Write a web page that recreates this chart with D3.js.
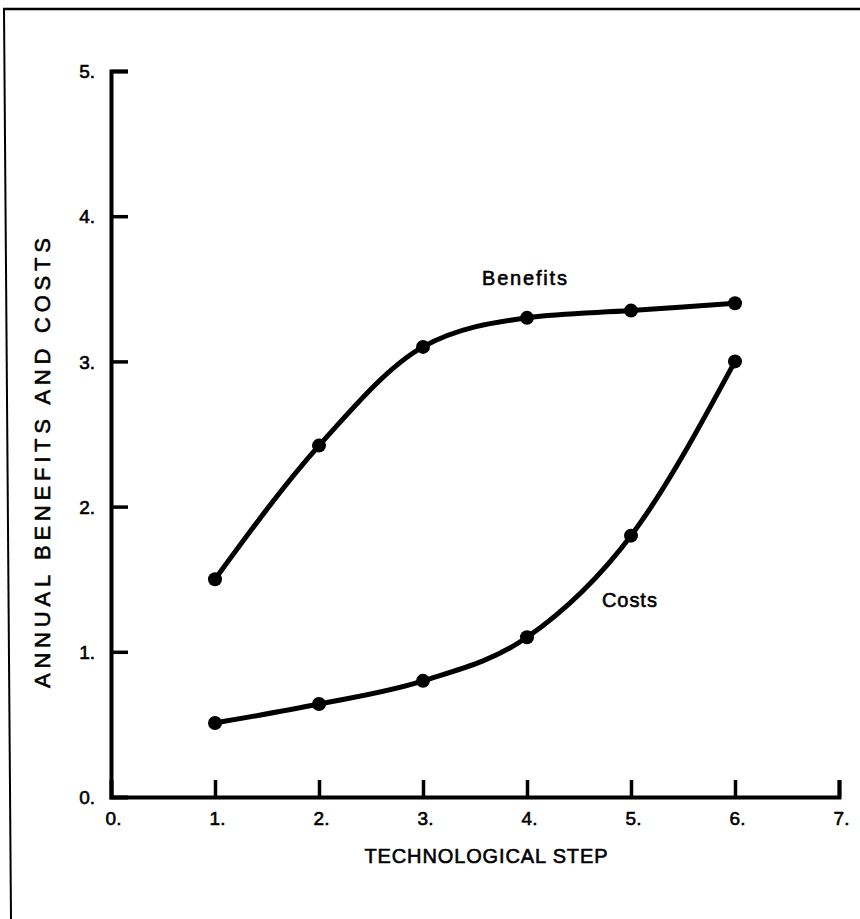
<!DOCTYPE html>
<html><head><meta charset="utf-8">
<script src="https://cdn.jsdelivr.net/npm/d3@7"></script>
<style>body{margin:0;background:#fff}svg{display:block}</style>
</head><body>
<svg id="c" width="860" height="919"></svg>
<script>
const steps = [1, 2, 3, 4, 5, 6];
const benefits = [1.5, 2.42, 3.1, 3.3, 3.35, 3.4];
const costs = [0.51, 0.64, 0.8, 1.1, 1.8, 3.0];
const xTicks = [0, 1, 2, 3, 4, 5, 6, 7];
const yTicks = [0, 1, 2, 3, 4, 5];
const xTitle = "TECHNOLOGICAL STEP";
const yTitle = "ANNUAL BENEFITS AND COSTS";
const seriesLabels = [{name: "Benefits", x: 3.567, y: 3.526}, {name: "Costs", x: 4.72, y: 1.31}];

const svg = d3.select("#c");
const font = "'Liberation Sans', Arial, Helvetica, sans-serif";
const x = d3.scaleLinear().domain([0, 7]).range([111, 839]);
const y = d3.scaleLinear().domain([0, 5]).range([797, 71]);

function ink(sel) {
  return sel.attr("fill", "#000").attr("stroke", "#000").attr("stroke-width", 0.6).style("font-family", font);
}

// frame
svg.append("line").attr("x1", 3).attr("y1", 9).attr("x2", 860).attr("y2", 9).attr("stroke", "#000").attr("stroke-width", 2.5);
svg.append("line").attr("x1", 4).attr("y1", 9).attr("x2", 11).attr("y2", 919).attr("stroke", "#000").attr("stroke-width", 2);

// axes
const xAxis = d3.axisBottom(x).tickValues(xTicks).tickSize(-17).tickFormat(d => d + ".");
const gx = svg.append("g").attr("transform", `translate(0,${y(0)})`).call(xAxis);
const yAxis = d3.axisLeft(y).tickValues(yTicks).tickSize(-17).tickPadding(16).tickFormat(d => d + ".");
const gy = svg.append("g").attr("transform", `translate(${x(0)},0)`).call(yAxis);
[gx, gy].forEach(g => {
  g.select(".domain").attr("stroke", "#000").attr("stroke-width", 4);
  g.selectAll(".tick line").attr("stroke", "#000").attr("stroke-width", 3.5);
  ink(g.selectAll(".tick text")).style("font-size", "19px");
});
gx.selectAll(".tick").filter(d => d === 0).select("line").remove();
gy.selectAll(".tick").filter(d => d === 0).select("line").remove();
gy.selectAll(".tick text").attr("dy", "0.35em");
gx.selectAll(".tick text").attr("dy", "0").attr("y", 28).attr("dx", "2");

// titles
ink(svg.append("text")).attr("x", 486).attr("y", 863).attr("text-anchor", "middle")
  .attr("textLength", 243).attr("lengthAdjust", "spacing")
  .style("font-size", "20px").text(xTitle);
ink(svg.append("text")).attr("transform", `translate(50,463) rotate(-90)`).attr("text-anchor", "middle")
  .attr("textLength", 450).attr("lengthAdjust", "spacing")
  .style("font-size", "22px").text(yTitle);

// lines
const line = d3.line().x(d => x(d[0])).y(d => y(d[1])).curve(d3.curveMonotoneX);
[benefits, costs].forEach(vals => {
  const pts = steps.map((s, i) => [s, vals[i]]);
  svg.append("path").attr("d", line(pts)).attr("fill", "none").attr("stroke", "#000").attr("stroke-width", 5);
  svg.selectAll(null).data(pts).enter().append("circle")
    .attr("cx", d => x(d[0])).attr("cy", d => y(d[1])).attr("r", 7).attr("fill", "#000");
});

const lens = {Benefits: 85, Costs: 55};
ink(svg.selectAll(null).data(seriesLabels).enter().append("text"))
  .attr("x", d => x(d.x)).attr("y", d => y(d.y))
  .attr("textLength", d => lens[d.name]).attr("lengthAdjust", "spacing")
  .style("font-size", "20px")
  .text(d => d.name);
</script>
</body></html>
